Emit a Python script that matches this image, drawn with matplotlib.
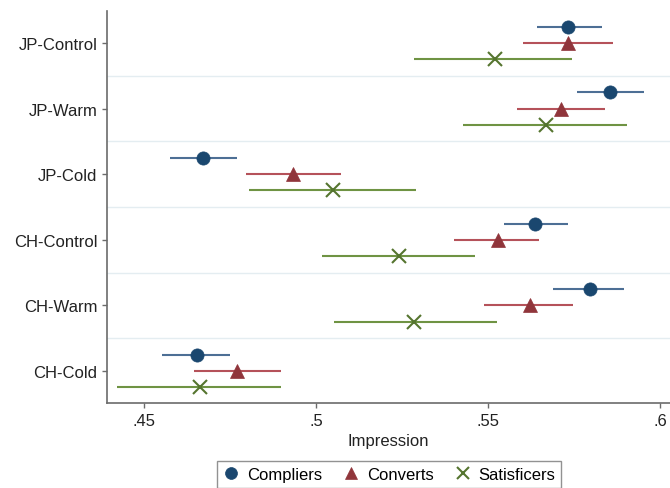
import numpy as np
import matplotlib
matplotlib.use('Agg')
import matplotlib.pyplot as plt

plt.rcParams['font.family'] = ['Liberation Sans', 'DejaVu Sans']

# categories, top to bottom
groups = ['JP-Control', 'JP-Warm', 'JP-Cold', 'CH-Control', 'CH-Warm', 'CH-Cold']

# point estimates and CI bounds per type
compliers = [0.5733, 0.5855, 0.4672, 0.5637, 0.5795, 0.4653]
compliers_lo = [0.5641, 0.5758, 0.4576, 0.5547, 0.5690, 0.4553]
compliers_hi = [0.5830, 0.5953, 0.4771, 0.5731, 0.5896, 0.4750]

converts = [0.5731, 0.5711, 0.4932, 0.5528, 0.5622, 0.4771]
converts_lo = [0.5603, 0.5583, 0.4796, 0.5401, 0.5488, 0.4645]
converts_hi = [0.5864, 0.5840, 0.5073, 0.5649, 0.5746, 0.4897]

satisficers = [0.5520, 0.5668, 0.5049, 0.5241, 0.5286, 0.4661]
satisficers_lo = [0.5285, 0.5428, 0.4806, 0.5017, 0.5052, 0.4421]
satisficers_hi = [0.5745, 0.5905, 0.5290, 0.5462, 0.5527, 0.4897]

series = [
    ('Compliers', compliers, compliers_lo, compliers_hi, -0.245, 'o', '#1a476f', '#4d6f95', 9.5),
    ('Converts', converts, converts_lo, converts_hi, 0.0, '^', '#90353b', '#b5525a', 9.5),
    ('Satisficers', satisficers, satisficers_lo, satisficers_hi, 0.245, 'x', '#55752f', '#6f9343', 10),
]

fig = plt.figure(figsize=(6.7, 4.89), dpi=100)
ax = fig.add_axes([107 / 670, 1 - 404 / 489, 1 - 107 / 670, (404 - 12) / 489])

ypos = np.arange(len(groups))

# light separators between groups
for y in ypos[:-1] + 0.5:
    ax.axhline(y, color='#e4edf1', lw=1, zorder=0)

handles = []
for name, est, lo, hi, off, mk, col, lcol, ms in series:
    y = ypos + off
    ax.hlines(y, lo, hi, color=lcol, lw=1.5, zorder=2)
    h, = ax.plot(est, y, linestyle='none', marker=mk, color=col, markersize=ms,
                 markeredgewidth=1.5 if mk == 'x' else 0.5, zorder=3, label=name)
    handles.append(h)

ax.set_yticks(ypos)
ax.set_yticklabels(groups)
ax.set_ylim(5.485, -0.485)
ax.set_xlim(0.4392, 0.6029)
ax.set_xticks([0.45, 0.5, 0.55, 0.6])
ax.set_xticklabels(['.45', '.5', '.55', '.6'])
ax.set_xlabel('Impression', fontsize=12, color='#222222', labelpad=4)

for s in ['top', 'right']:
    ax.spines[s].set_visible(False)
for s in ['left', 'bottom']:
    ax.spines[s].set_color('#6b6b6b')
    ax.spines[s].set_linewidth(1.2)
ax.tick_params(axis='both', labelsize=12, colors='#6b6b6b', labelcolor='#222222',
               length=3.5, width=1)

fig.legend(handles=handles, loc='upper center', bbox_to_anchor=(389 / 670, 1 - 454 / 489),
           ncol=3, fontsize=12, frameon=True, fancybox=False, edgecolor='#777777',
           handletextpad=0.45, columnspacing=1.25, handlelength=1.0, borderpad=0.35,
           markerscale=0.9)

fig.savefig('out.png', dpi=100)
